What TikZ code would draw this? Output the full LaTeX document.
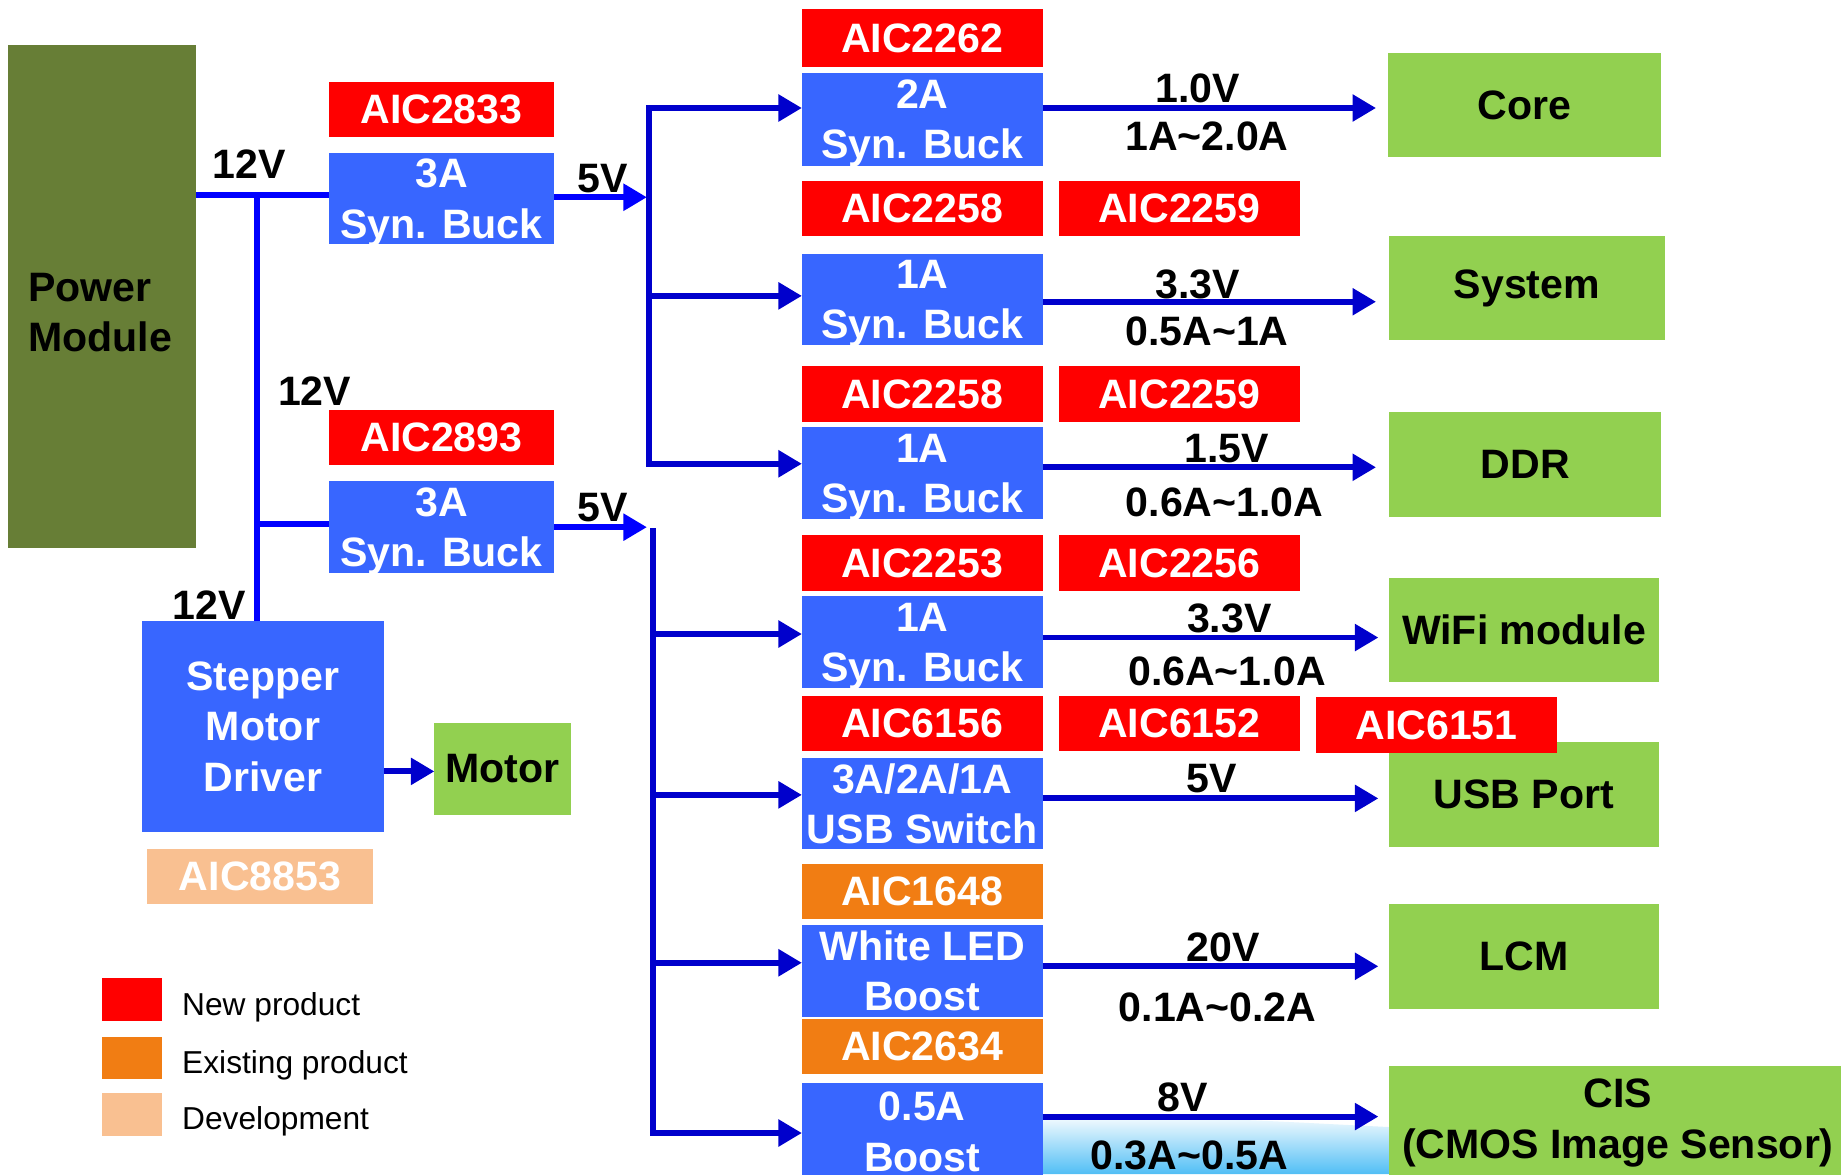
\documentclass[tikz,border=0pt]{standalone}
\usepackage{fontspec}
\setmainfont{Liberation Sans}
\usetikzlibrary{arrows.meta}
\definecolor{aicred}{RGB}{255,0,0}
\definecolor{boxblue}{RGB}{56,102,255}
\definecolor{loadgreen}{RGB}{146,208,80}
\definecolor{olive}{RGB}{103,126,54}
\definecolor{exorange}{RGB}{241,125,19}
\definecolor{devorange}{RGB}{249,192,145}
\definecolor{busblue}{RGB}{0,0,204}
\definecolor{feedblue}{RGB}{0,0,255}
\definecolor{wave}{RGB}{80,190,245}
\newcommand\fBig{\fontsize{35}{43}\selectfont\bfseries}
\newcommand\fLeg{\fontsize{27}{32}\selectfont}
\tikzset{
  blk/.style={anchor=north west, inner sep=0pt, outer sep=0pt, font=\fBig, align=center},
  redbox/.style={blk, fill=aicred, text=white, minimum height=47pt},
  orbox/.style={blk, fill=exorange, text=white, minimum height=47pt},
  devbox/.style={blk, fill=devorange, text=white, minimum height=47pt},
  bluebox/.style={blk, fill=boxblue, text=white},
  buckbox/.style={bluebox, text depth=0pt},
  loadbox/.style={blk, fill=loadgreen, text=black},
  lbl/.style={font=\fBig, inner sep=0pt, text=black},
  legsq/.style={anchor=north west, inner sep=0pt, minimum width=51pt, minimum height=36pt},
  legtxt/.style={anchor=west, font=\fLeg, inner sep=0pt},
  feed/.style={draw=feedblue, line width=5pt},
  bus/.style={draw=busblue, line width=5pt, line cap=rect},
  arr/.style={draw=busblue, line width=5pt, -{Triangle[length=20pt,width=22pt]}},
  farr/.style={draw=feedblue, line width=5pt, -{Triangle[length=20pt,width=22pt]}},
}
\begin{document}
\begin{tikzpicture}[x=1pt, y=-1pt]
\clip (0,0) rectangle (1568,1000);
\fill[white] (0,0) rectangle (1568,1000);
% bottom background wave
\shade[top color=white, bottom color=wave] (880,952) .. controls (980,948) and (1100,956) .. (1185,960) -- (1185,1000) -- (880,1000) -- cycle;

% power module
\node[blk, fill=olive, minimum width=160pt, minimum height=429pt] (pm) at (7,38) {};
\node[lbl, anchor=west, align=left] (pmt) at (24,266) {Power\\Module};

% first bucks
\node[redbox, minimum width=192pt] (r2833) at (280,70) {AIC2833};
\node[buckbox, minimum width=192pt, minimum height=78pt] (b1) at (280,130) {3A\\Syn. Buck};
\node[redbox, minimum width=192pt] (r2893) at (280,349) {AIC2893};
\node[buckbox, minimum width=192pt, minimum height=78pt] (b2) at (280,410) {3A\\Syn. Buck};

% stepper
\node[bluebox, minimum width=206pt, minimum height=180pt] (smd) at (121,529) {Stepper\\Motor\\Driver};
\node[loadbox, minimum width=116pt, minimum height=78pt] (motor) at (370,616) {Motor};
\node[devbox, minimum width=193pt] (a8853) at (125,723) {AIC8853};

% right column converters
\node[redbox, minimum width=205pt, minimum height=49pt] (r2262) at (683,8) {AIC2262};
\node[buckbox, minimum width=205pt, minimum height=79pt] (c1) at (683,62) {2A\\Syn. Buck};
\node[redbox, minimum width=205pt] (r2258a) at (683,154) {AIC2258};
\node[redbox, minimum width=205pt] (r2259a) at (902,154) {AIC2259};
\node[buckbox, minimum width=205pt, minimum height=78pt] (c2) at (683,216) {1A\\Syn. Buck};
\node[redbox, minimum width=205pt] (r2258b) at (683,312) {AIC2258};
\node[redbox, minimum width=205pt] (r2259b) at (902,312) {AIC2259};
\node[buckbox, minimum width=205pt, minimum height=78pt] (c3) at (683,364) {1A\\Syn. Buck};
\node[redbox, minimum width=205pt] (r2253) at (683,456) {AIC2253};
\node[redbox, minimum width=205pt] (r2256) at (902,456) {AIC2256};
\node[buckbox, minimum width=205pt, minimum height=78pt] (c4) at (683,508) {1A\\Syn. Buck};
\node[redbox, minimum width=205pt] (r6156) at (683,593) {AIC6156};
\node[redbox, minimum width=205pt] (r6152) at (902,593) {AIC6152};
\node[bluebox, minimum width=205pt, minimum height=77pt] (c5) at (683,646) {3A/2A/1A\\USB Switch};
\node[orbox, minimum width=205pt] (o1648) at (683,736) {AIC1648};
\node[bluebox, minimum width=205pt, minimum height=78pt] (c6) at (683,788) {White LED\\Boost};
\node[orbox, minimum width=205pt] (o2634) at (683,868) {AIC2634};
\node[bluebox, minimum width=205pt, minimum height=84pt] (c7) at (683,922) {0.5A\\Boost};

% loads
\node[loadbox, minimum width=233pt, minimum height=89pt] (core) at (1182,45) {Core};
\node[loadbox, minimum width=235pt, minimum height=89pt] (system) at (1183,201) {System};
\node[loadbox, minimum width=232pt, minimum height=89pt] (ddr) at (1183,351) {DDR};
\node[loadbox, minimum width=230pt, minimum height=89pt] (wifi) at (1183,492) {WiFi module};
\node[loadbox, minimum width=230pt, minimum height=89pt] (usb) at (1183,632) {USB Port};
\node[redbox, minimum width=205pt] (r6151) at (1121,594) {AIC6151};
\node[loadbox, minimum width=230pt, minimum height=89pt] (lcm) at (1183,770) {LCM};
\node[loadbox, minimum width=390pt, minimum height=97pt] (cis) at (1183,908) {CIS\\(CMOS Image Sensor)};

% 12V feed
\coordinate (j1) at (219,166);
\coordinate (j2) at (219,446);
\draw[feed] (pm.east |- j1) -- (j1 -| b1.west);
\draw[feed] (j1) -- (j1 |- smd.north);
\draw[feed] (j2) -- (j2 -| b2.west);
\coordinate (v1) at (551,168);
\coordinate (v2) at (551,449);
\draw[farr] (v1 -| b1.east) -- (v1);
\draw[farr] (v2 -| b2.east) -- (v2);

% bus 1
\coordinate (t1) at (553,92);
\coordinate (t2) at (553,252);
\coordinate (t3) at (553,395);
\draw[bus] (t1) -- (t3);
\draw[arr] (t1) -- (t1 -| c1.west);
\draw[arr] (t2) -- (t2 -| c2.west);
\draw[arr] (t3) -- (t3 -| c3.west);

% bus 2
\coordinate (s0) at (556,452);
\coordinate (s1) at (556,540);
\coordinate (s2) at (556,677);
\coordinate (s3) at (556,820);
\coordinate (s4) at (556,965);
\draw[bus] (s0) -- (s4);
\draw[arr] (s1) -- (s1 -| c4.west);
\draw[arr] (s2) -- (s2 -| c5.west);
\draw[arr] (s3) -- (s3 -| c6.west);
\draw[arr] (s4) -- (s4 -| c7.west);

% outputs
\coordinate (u1) at (888,92);
\coordinate (u2) at (888,257);
\coordinate (u3) at (888,398);
\coordinate (u4) at (888,543);
\coordinate (u5) at (888,680);
\coordinate (u6) at (888,823);
\coordinate (u7) at (888,951);
\draw[arr, shorten >=10pt] (u1) -- (u1 -| core.west);
\draw[arr, shorten >=11pt] (u2) -- (u2 -| system.west);
\draw[arr, shorten >=11pt] (u3) -- (u3 -| ddr.west);
\draw[arr, shorten >=9pt] (u4) -- (u4 -| wifi.west);
\draw[arr, shorten >=9pt] (u5) -- (u5 -| usb.west);
\draw[arr, shorten >=9pt] (u6) -- (u6 -| lcm.west);
\draw[arr, shorten >=9pt] (u7) -- (u7 -| cis.west);
\coordinate (m1) at (327,657);
\draw[arr] (m1) -- (m1 -| motor.west);

% voltage / current labels
\node[lbl] (l12a) at (212,140) {12V};
\node[lbl] (l12b) at (268,333) {12V};
\node[lbl] (l12c) at (178,515) {12V};
\node[lbl] (l5a) at (513,152) {5V};
\node[lbl] (l5b) at (513,432) {5V};
\node[lbl] (v10) at (1020,75) {1.0V};
\node[lbl] (i10) at (1028,116) {1A\textasciitilde 2.0A};
\node[lbl] (v33a) at (1020,242) {3.3V};
\node[lbl] (i33a) at (1028,282) {0.5A\textasciitilde 1A};
\node[lbl] (v15) at (1045,382) {1.5V};
\node[lbl] (i15) at (1043,428) {0.6A\textasciitilde 1.0A};
\node[lbl] (v33b) at (1047,527) {3.3V};
\node[lbl] (i33b) at (1045,572) {0.6A\textasciitilde 1.0A};
\node[lbl] (v5u) at (1032,663) {5V};
\node[lbl] (v20) at (1042,807) {20V};
\node[lbl] (i20) at (1037,858) {0.1A\textasciitilde 0.2A};
\node[lbl] (v8) at (1007,935) {8V};
\node[lbl] (i8) at (1013,984) {0.3A\textasciitilde 0.5A};

% legend
\node[legsq, fill=aicred] (lg1) at (87,833) {};
\node[legsq, fill=exorange] (lg2) at (87,883) {};
\node[legsq, fill=devorange] (lg3) at (87,931) {};
\node[legtxt] (lt1) at (155,858) {New product};
\node[legtxt] (lt2) at (155,907) {Existing product};
\node[legtxt] (lt3) at (155,955) {Development};
\end{tikzpicture}
\end{document}
